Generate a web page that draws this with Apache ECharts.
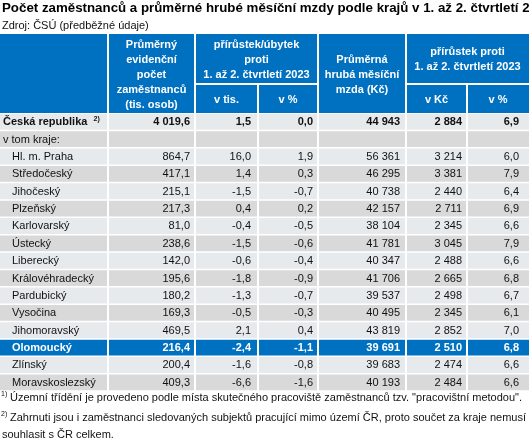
<!DOCTYPE html>
<html><head><meta charset="utf-8">
<script src="https://cdn.jsdelivr.net/npm/echarts@6/dist/echarts.min.js"></script>
<style>html,body{margin:0;padding:0;background:#fff}#c{width:529px;height:444px}</style>
</head><body><div id="c"></div>
<script>
// ---- data ----
const titleText = 'Počet zaměstnanců a průměrné hrubé měsíční mzdy podle krajů v 1. až 2. čtvrtletí 2024';
const sourceText = 'Zdroj: ČSÚ (předběžné údaje)';
const rowLabels = ['Česká republika', 'v tom kraje:', 'Hl. m. Praha', 'Středočeský', 'Jihočeský', 'Plzeňský',
  'Karlovarský', 'Ústecký', 'Liberecký', 'Královéhradecký', 'Pardubický', 'Vysočina', 'Jihomoravský',
  'Olomoucký', 'Zlínský', 'Moravskoslezský'];
const employees = [4019.6, null, 864.7, 417.1, 215.1, 217.3, 81.0, 238.6, 142.0, 195.6, 180.2, 169.3, 469.5, 216.4, 200.4, 409.3];
const employeesChange = [1.5, null, 16.0, 1.4, -1.5, 0.4, -0.4, -1.5, -0.6, -1.8, -1.3, -0.5, 2.1, -2.4, -1.6, -6.6];
const employeesChangePct = [0.0, null, 1.9, 0.3, -0.7, 0.2, -0.5, -0.6, -0.4, -0.9, -0.7, -0.3, 0.4, -1.1, -0.8, -1.6];
const wage = [44943, null, 56361, 46295, 40738, 42157, 38104, 41781, 40347, 41706, 39537, 40495, 43819, 39691, 39683, 40193];
const wageChange = [2884, null, 3214, 3381, 2440, 2711, 2345, 3045, 2488, 2665, 2498, 2345, 2852, 2510, 2474, 2484];
const wageChangePct = [6.9, null, 6.0, 7.9, 6.4, 6.9, 6.6, 7.9, 6.6, 6.8, 6.7, 6.1, 7.0, 6.8, 6.6, 6.6];
const highlighted = 'Olomoucký';
const totalNote = '2)';
const headEmployees = 'Průměrný\nevidenční\npočet\nzaměstnanců\n(tis. osob)';
const headEmpChange = 'přírůstek/úbytek\nproti\n1. až 2. čtvrtletí 2023';
const headWage = 'Průměrná\nhrubá měsíční\nmzda (Kč)';
const headWageChange = 'přírůstek proti\n1. až 2. čtvrtletí 2023';
const subHeads = ['v tis.', 'v %', 'v Kč', 'v %'];
const footnote1 = 'Územní třídění je provedeno podle místa skutečného pracoviště zaměstnanců tzv. "pracovištní metodou".';
const footnote2a = 'Zahrnuti jsou i zaměstnanci sledovaných subjektů pracující mimo území ČR, proto součet za kraje nemusí';
const footnote2b = 'souhlasit s ČR celkem.';

// ---- layout / style ----
const FONT = '"Liberation Sans", Arial, sans-serif';
const BLUE = '#0070C0';
const LIGHT = '#E7EAED';
const DARK = '#D9D9DA';
const edges = [0, 108, 195, 258, 318, 406, 467, 529];
const padR = [5, 7, 5, 6, 5, 10];
const columns = [
  { v: employees, d: 1 }, { v: employeesChange, d: 1 }, { v: employeesChangePct, d: 1 },
  { v: wage, d: 0 }, { v: wageChange, d: 0 }, { v: wageChangePct, d: 1 }
];
const HEAD_TOP = 34, HEAD_MID = 84, HEAD_BOT = 113;
const TABLE_BOT = 391;

function fmt(v, d) {
  if (v === null || v === undefined) return '';
  let s = Math.abs(v).toFixed(d);
  let parts = s.split('.');
  let i = parts[0].replace(/\B(?=(\d{3})+(?!\d))/g, ' ');
  return (v < 0 ? '-' : '') + i + (parts[1] ? ',' + parts[1] : '');
}

const hiIdx = rowLabels.indexOf(highlighted);

function renderRow(params, api) {
  const idx = api.value(1);
  const c = api.coord([0, idx]);
  const h = api.size([0, 1])[1];
  const yC = c[1];
  const top = yC - h / 2;
  const X = v => api.coord([v, idx])[0];
  const fill = idx === hiIdx ? BLUE : (idx % 2 === 0 ? LIGHT : DARK);
  const txtColor = idx === hiIdx ? '#fff' : '#111';
  const bold = idx === 0 || idx === hiIdx;
  const children = [];
  for (let i = 0; i < edges.length - 1; i++) {
    const x0 = X(edges[i]) + (i ? 1 : 0);
    const x1 = X(edges[i + 1]) - (i < edges.length - 2 ? 1 : 0);
    children.push({ type: 'rect', shape: { x: x0, y: top + 0.75, width: x1 - x0, height: h - 1.5 }, style: { fill: fill } });
  }
  const indent = idx >= 2 ? 12 : 3;
  if (idx === 0) {
    children.push({ type: 'text', style: {
      x: X(indent), y: yC + 0.5, align: 'left', verticalAlign: 'middle',
      text: '{b|' + rowLabels[idx] + '  }{s|' + totalNote + '}',
      rich: {
        b: { fontFamily: FONT, fontSize: 11, fontWeight: 'bold', fill: txtColor, lineHeight: 14 },
        s: { fontFamily: FONT, fontSize: 7, fontWeight: 'bold', fill: txtColor, lineHeight: 14, verticalAlign: 'top', padding: [0, 0, 5, 0] }
      }
    } });
  } else {
    children.push({ type: 'text', style: {
      x: X(indent), y: yC + 0.5, align: 'left', verticalAlign: 'middle', text: rowLabels[idx],
      fill: txtColor, fontFamily: FONT, fontSize: 11, fontWeight: bold ? 'bold' : 'normal'
    } });
  }
  columns.forEach((col, i) => {
    children.push({ type: 'text', style: {
      x: X(edges[i + 2] - padR[i]), y: yC + 0.5, align: 'right', verticalAlign: 'middle',
      text: fmt(col.v[idx], col.d), fill: txtColor, fontFamily: FONT, fontSize: 11,
      fontWeight: bold ? 'bold' : 'normal'
    } });
  });
  return { type: 'group', children: children };
}

function headRect(x0, x1, y0, y1) {
  return { type: 'rect', shape: { x: x0, y: y0, width: x1 - x0, height: y1 - y0 }, style: { fill: BLUE }, silent: true };
}
function headText(x, y, t) {
  return { type: 'text', x: x, y: y, silent: true, style: { text: t, align: 'center', verticalAlign: 'middle',
    fill: '#fff', fontFamily: FONT, fontSize: 11, fontWeight: 'bold', lineHeight: 15 } };
}
function plainText(x, y, t, size, weight) {
  return { type: 'text', x: x, y: y, silent: true, style: { text: t, align: 'left', verticalAlign: 'middle',
    fill: '#111', fontFamily: FONT, fontSize: size, fontWeight: weight || 'normal' } };
}

const graphics = [
  headRect(0, 107, HEAD_TOP, HEAD_BOT),
  headRect(109, 194, HEAD_TOP, HEAD_BOT),
  headRect(196, 317, HEAD_TOP, HEAD_MID - 1),
  headRect(196, 257, HEAD_MID + 1, HEAD_BOT),
  headRect(259, 317, HEAD_MID + 1, HEAD_BOT),
  headRect(319, 405, HEAD_TOP, HEAD_BOT),
  headRect(407, 529, HEAD_TOP, HEAD_MID - 1),
  headRect(407, 466, HEAD_MID + 1, HEAD_BOT),
  headRect(468, 529, HEAD_MID + 1, HEAD_BOT),
  headText(151.5, 74.5, headEmployees),
  headText(256.5, 60, headEmpChange),
  headText(226.5, 99.5, subHeads[0]),
  headText(288, 99.5, subHeads[1]),
  headText(362, 75, headWage),
  headText(467.5, 59.5, headWageChange),
  headText(436.5, 99.5, subHeads[2]),
  headText(498, 99.5, subHeads[3]),
  plainText(1, 394, '1)', 7),
  plainText(10, 397.5, footnote1, 11),
  plainText(1, 414, '2)', 7),
  plainText(10, 417.5, footnote2a, 11),
  plainText(2, 434.5, footnote2b, 11)
];

const chart = echarts.init(document.getElementById('c'), null, { renderer: 'canvas' });
chart.setOption({
  backgroundColor: '#fff',
  animation: false,
  title: {
    text: titleText, subtext: sourceText, left: 2, top: 2, padding: 0, itemGap: 5,
    textStyle: { fontFamily: FONT, fontSize: 13.3, fontWeight: 'bold', color: '#000' },
    subtextStyle: { fontFamily: FONT, fontSize: 11, color: '#111' }
  },
  grid: { left: 0, right: 0, top: HEAD_BOT, bottom: 444 - TABLE_BOT, containLabel: false },
  xAxis: { type: 'value', min: 0, max: 529, show: false },
  yAxis: { type: 'category', data: rowLabels, inverse: true, show: false },
  graphic: graphics,
  series: [{
    type: 'custom', renderItem: renderRow, encode: { x: 0, y: 1 },
    data: rowLabels.map((_, i) => [0, i]), silent: true
  }]
});
</script></body></html>
